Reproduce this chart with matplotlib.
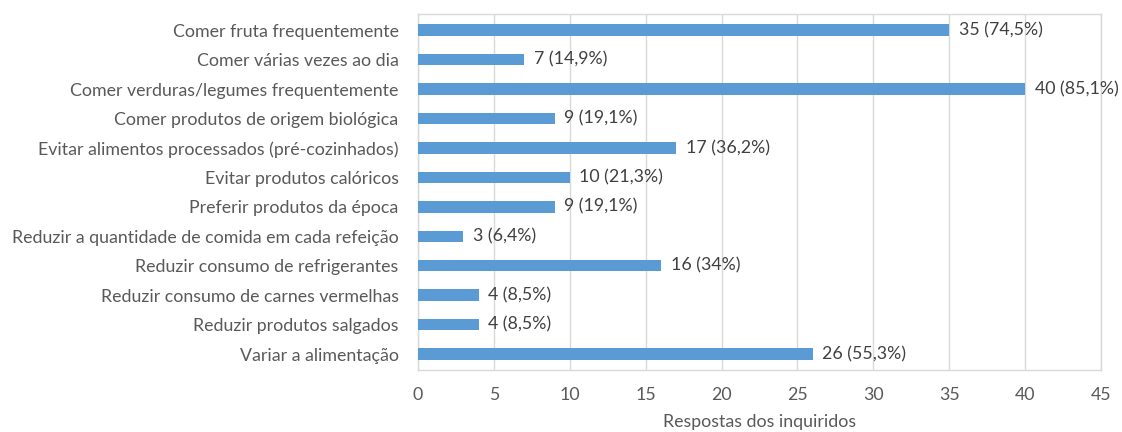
import matplotlib
matplotlib.use("Agg")
import matplotlib.pyplot as plt

categories = [
    "Comer fruta frequentemente",
    "Comer várias vezes ao dia",
    "Comer verduras/legumes frequentemente",
    "Comer produtos de origem biológica",
    "Evitar alimentos processados (pré-cozinhados)",
    "Evitar produtos calóricos",
    "Preferir produtos da época",
    "Reduzir a quantidade de comida em cada refeição",
    "Reduzir consumo de refrigerantes",
    "Reduzir consumo de carnes vermelhas",
    "Reduzir produtos salgados",
    "Variar a alimentação",
]
values = [35, 7, 40, 9, 17, 10, 9, 3, 16, 4, 4, 26]
percent_labels = ["74,5%", "14,9%", "85,1%", "19,1%", "36,2%", "21,3%",
                  "19,1%", "6,4%", "34%", "8,5%", "8,5%", "55,3%"]
xticks = [0, 5, 10, 15, 20, 25, 30, 35, 40, 45]

plt.rcParams['font.family'] = ['Lato', 'DejaVu Sans']

fig = plt.figure(figsize=(11.22, 4.32), dpi=100)
ax = fig.add_axes([0.3725, 0.1435, 0.6088, 0.8235])

ypos = list(range(len(categories)))
ax.barh(ypos, values, height=0.39, color="#5B9BD5", zorder=3)
for y, v, p in zip(ypos, values, percent_labels):
    ax.annotate(f"{v} ({p})", xy=(v, y), xytext=(7, 0), textcoords="offset points",
                ha="left", va="center", fontsize=12.8, color="#404040", zorder=4)

ax.set_ylim(len(categories) - 0.46, -0.54)
ax.set_xlim(0, 45)
ax.set_xticks(xticks)
ax.set_xticklabels([str(t) for t in xticks])
ax.set_yticks(ypos)
ax.set_yticklabels(categories)
ax.tick_params(axis='y', length=0, pad=14, labelsize=12.8, labelcolor="#595959")
ax.tick_params(axis='x', length=0, pad=12, labelsize=12.8, labelcolor="#595959")
ax.grid(axis='x', color="#D9D9D9", linewidth=1, zorder=0)
for s in ax.spines.values():
    s.set_color("#D9D9D9")
    s.set_linewidth(1)
ax.set_xlabel("Respostas dos inquiridos", fontsize=12.8, color="#595959", labelpad=8)

fig.savefig("out.png", dpi=100, facecolor="white")
